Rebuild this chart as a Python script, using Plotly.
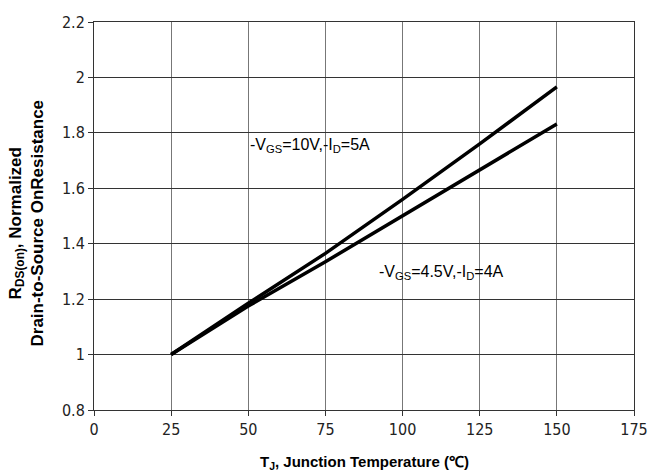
import plotly.graph_objects as go

temps = [25, 50, 75, 100, 125, 150]
r_10v = [1.0, 1.185, 1.365, 1.56, 1.76, 1.966]
r_45v = [1.0, 1.175, 1.335, 1.50, 1.665, 1.832]

x_ticks = [0, 25, 50, 75, 100, 125, 150, 175]
y_ticks = [0.8, 1.0, 1.2, 1.4, 1.6, 1.8, 2.0, 2.2]
y_labels = ["0.8", "1", "1.2", "1.4", "1.6", "1.8", "2", "2.2"]

label_10v = "-V<sub>GS</sub>=10V,-I<sub>D</sub>=5A"
label_45v = "-V<sub>GS</sub>=4.5V,-I<sub>D</sub>=4A"

fig = go.Figure()
fig.add_trace(go.Scatter(x=temps, y=r_10v, mode="lines",
                         line=dict(color="black", width=3.5), showlegend=False))
fig.add_trace(go.Scatter(x=temps, y=r_45v, mode="lines",
                         line=dict(color="black", width=3.5), showlegend=False))

tick_font = dict(family="Liberation Sans Narrow, DejaVu Sans Condensed, Liberation Sans", size=16, color="#222")

fig.update_layout(
    width=649, height=472,
    margin=dict(l=94, r=15, t=22, b=62, autoexpand=False),
    paper_bgcolor="white", plot_bgcolor="white",
    xaxis=dict(range=[0, 175], tickvals=x_ticks, ticktext=[str(v) for v in x_ticks],
               showgrid=True, gridcolor="#777", gridwidth=1,
               showline=True, linecolor="#333", linewidth=1, mirror=True,
               ticks="outside", ticklen=5, tickcolor="#333",
               tickfont=tick_font, zeroline=False, automargin=False),
    yaxis=dict(range=[0.8, 2.2], tickvals=y_ticks, ticktext=y_labels,
               showgrid=True, gridcolor="#333", gridwidth=1,
               showline=True, linecolor="#333", linewidth=1, mirror=True,
               ticks="outside", ticklen=5, tickcolor="#333",
               tickfont=tick_font, zeroline=False, automargin=False),
    font=dict(family="Liberation Sans", color="black"),
)

fig.add_annotation(x=50, y=1.753, xref="x", yref="y", text=label_10v, showarrow=False,
                   xanchor="left", yanchor="middle",
                   font=dict(family="Liberation Sans", size=16, color="black"))
fig.add_annotation(x=91.7, y=1.295, xref="x", yref="y", text=label_45v, showarrow=False,
                   xanchor="left", yanchor="middle",
                   font=dict(family="Liberation Sans", size=16, color="black"))

fig.add_annotation(x=(26.5 - 94) / 540, y=(410 - 223) / 388, xref="paper", yref="paper",
                   text="<b>R<sub>DS(on)</sub>, Normalized<br>Drain-to-Source OnResistance</b>",
                   textangle=-90, showarrow=False, xanchor="center", yanchor="middle",
                   font=dict(family="Liberation Sans", size=17, color="black"))
fig.add_annotation(x=0.5, y=-(462 - 410) / 388, xref="paper", yref="paper",
                   text="<b>T<sub>J</sub>, Junction Temperature (℃)</b>",
                   showarrow=False, xanchor="center", yanchor="middle",
                   font=dict(family="Liberation Sans Narrow, Liberation Sans", size=15, color="black"))

fig.write_html("out.html")
